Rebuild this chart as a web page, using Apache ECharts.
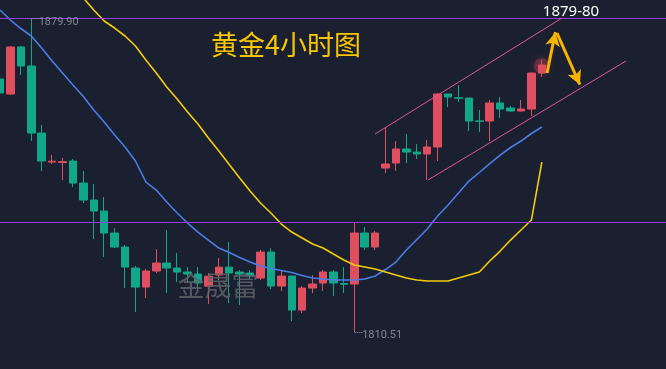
<!DOCTYPE html>
<html><head><meta charset="utf-8">
<script src="https://cdn.jsdelivr.net/npm/echarts@6/dist/echarts.min.js"></script>
<style>html,body{margin:0;padding:0;background:#1b2030;}#c{width:666px;height:369px;}</style>
</head><body><div id="c"></div>
<script>
// 4-hour gold candles (index 0 at left edge)
const opens  = [1866.55,1863.24,1873.62,1869.42,1854.62,1848.20,1848.10,1848.44,1843.57,1839.82,1837.39,1832.53,1829.44,1824.80,1820.60,1824.14,1825.90,1824.80,1823.92,1823.47,1820.80,1823.25,1825.00,1823.92,1823.70,1822.59,1828.33,1820.82,1823.03,1815.52,1820.38,1821.49,1823.92,1821.40,1821.26,1832.53,1829.44,1846.89,1848.00,1851.09,1850.42,1849.98,1851.53,1863.24,1862.40,1862.35,1857.30,1857.27,1861.25,1860.14,1859.48,1859.92,1867.87];
const closes = [1863.46,1873.62,1869.42,1854.62,1848.44,1848.40,1848.30,1843.57,1839.82,1837.39,1832.53,1829.44,1825.02,1820.60,1824.14,1825.90,1824.80,1823.92,1823.47,1821.49,1823.00,1825.00,1823.70,1823.47,1823.03,1828.33,1820.82,1823.03,1815.52,1820.38,1821.26,1823.92,1821.49,1821.20,1832.53,1829.44,1832.53,1847.77,1851.09,1850.42,1849.98,1851.53,1863.24,1862.57,1862.30,1857.27,1857.20,1861.25,1859.92,1859.48,1859.92,1867.87,1869.64];
const lows   = [1863.30,1863.00,1867.43,1852.85,1846.23,1847.80,1844.20,1842.69,1839.16,1831.20,1827.23,1829.20,1820.40,1815.08,1818.17,1823.70,1819.28,1821.70,1821.50,1819.94,1816.85,1822.15,1817.07,1816.60,1822.30,1822.15,1820.16,1819.72,1813.09,1814.86,1819.28,1819.72,1818.61,1819.28,1810.51,1828.78,1828.78,1845.78,1846.23,1848.00,1848.88,1844.24,1848.44,1860.36,1861.47,1855.06,1854.84,1852.85,1857.93,1859.26,1859.40,1858.38,1866.99];
const highs  = [1866.70,1873.84,1873.84,1879.90,1856.39,1849.80,1849.10,1848.88,1846.23,1843.35,1840.48,1833.60,1829.90,1825.24,1824.58,1829.00,1833.19,1828.10,1825.00,1825.00,1823.70,1827.00,1830.54,1824.36,1824.30,1828.80,1829.20,1824.14,1823.10,1820.80,1823.25,1824.36,1824.36,1825.00,1834.74,1833.86,1832.97,1855.73,1852.85,1854.40,1852.19,1853.07,1863.46,1863.30,1865.22,1862.40,1859.70,1861.91,1862.57,1860.60,1861.91,1867.90,1870.75];
// moving averages
const maBlue = [1881.79,1879.58,1877.70,1876.05,1873.40,1870.53,1867.87,1865.22,1862.68,1859.70,1857.05,1854.18,1851.53,1848.44,1843.80,1842.03,1839.38,1836.95,1834.74,1832.75,1830.98,1829.22,1828.22,1827.12,1826.12,1825.24,1824.69,1824.25,1823.80,1823.14,1822.59,1822.37,1822.15,1822.15,1822.15,1822.37,1823.03,1824.47,1826.12,1828.78,1831.09,1833.41,1836.29,1838.72,1841.37,1844.02,1845.90,1847.88,1849.76,1851.42,1852.85,1854.51,1855.95];
const maYellow = [null,null,null,null,null,null,null,null,1884.44,1881.79,1879.36,1877.81,1876.05,1873.84,1870.75,1867.87,1864.78,1862.13,1859.26,1856.61,1853.52,1850.64,1847.66,1844.68,1841.81,1839.16,1836.95,1834.52,1832.75,1831.43,1830.10,1829.22,1827.89,1826.57,1825.46,1825.02,1824.58,1823.92,1823.25,1822.59,1822.15,1821.93,1821.93,1821.93,1822.59,1823.25,1823.92,1826.35,1828.55,1830.98,1833.19,1835.40,1848.21];
// horizontal levels
const levels = [1880, 1835];
// annotation lines: [x index, price]
const channelUpper = [[35.99, 1854.40], [53.93, 1880.02]];
const channelLower = [[41.07, 1844.24], [60.08, 1870.53]];
const arrowUp   = [[52.5, 1867.87], [53.3, 1876.9]];
const arrowDown = [[53.45, 1876.71], [55.65, 1865.3]];
const highMark = [3, 1879.90, '1879.90'];
const lowMark  = [34, 1810.51, '1810.51'];

const N = 65;
const categories = Array.from({length: N}, (_, i) => 'K' + i);
const candles = opens.map((o, i) => [o, closes[i], lows[i], highs[i]]);
const RED = '#e04f5f', GREEN = '#11a88a';

const chart = echarts.init(document.getElementById('c'), null, {renderer: 'canvas'});
chart.setOption({
  backgroundColor: '#1b2030',
  animation: false,
  grid: {left: -5.21, right: -6.09, top: 0, bottom: 0, outerBoundsMode: 'none', containLabel: false},
  xAxis: [
    {type: 'category', data: categories, boundaryGap: true, show: false},
    {type: 'value', min: -0.5, max: N - 0.5, show: false}
  ],
  yAxis: {type: 'value', min: 1802.5, max: 1884, show: false, splitLine: {show: false}},
  series: [
    {
      type: 'scatter', xAxisIndex: 0, data: [[52, 1869.4]], symbolSize: 16, z: 1, silent: true,
      itemStyle: {color: 'rgba(230,80,95,0.35)', shadowBlur: 10, shadowColor: 'rgba(230,80,95,0.8)'}
    },
    {
      type: 'candlestick', xAxisIndex: 0, data: candles, barWidth: 8, z: 3,
      itemStyle: {color: RED, color0: GREEN, borderColor: RED, borderColor0: GREEN, borderWidth: 1},
      markLine: {
        silent: true, symbol: ['none', 'none'], label: {show: false},
        lineStyle: {color: '#8f3fe0', type: 'solid', width: 1},
        data: levels.map(v => ({yAxis: v}))
      }
    },
    {type: 'line', xAxisIndex: 0, data: maBlue, showSymbol: false, smooth: false, z: 4,
     lineStyle: {color: '#4a7de8', width: 1.6}},
    {type: 'line', xAxisIndex: 0, data: maYellow, showSymbol: false, smooth: false, z: 4,
     lineStyle: {color: '#f5cc0a', width: 1.6}},
    {
      type: 'line', xAxisIndex: 1, data: [], z: 5,
      markLine: {
        silent: true, label: {show: false}, animation: false,
        data: [
          [{coord: channelUpper[0], symbol: 'none', lineStyle: {color: '#e0559c', width: 1, type: 'solid'}}, {coord: channelUpper[1], symbol: 'none'}],
          [{coord: channelLower[0], symbol: 'none', lineStyle: {color: '#e0559c', width: 1, type: 'solid'}}, {coord: channelLower[1], symbol: 'none'}],
          [{coord: arrowUp[0], symbol: 'none', lineStyle: {color: '#f7b500', width: 3, type: 'solid'}}, {coord: arrowUp[1], symbol: 'arrow', symbolSize: [11, 14]}],
          [{coord: arrowDown[0], symbol: 'none', lineStyle: {color: '#f7b500', width: 3, type: 'solid'}}, {coord: arrowDown[1], symbol: 'arrow', symbolSize: [11, 14]}],
          [{coord: [highMark[0] + 0.02, highMark[1]], symbol: 'none', lineStyle: {color: '#9aa0a8', width: 1, type: 'dotted'}}, {coord: [highMark[0] + 0.75, highMark[1]], symbol: 'none'}],
          [{coord: [lowMark[0] + 0.1, lowMark[1]], symbol: 'none', lineStyle: {color: '#9aa0a8', width: 1, type: 'dotted'}}, {coord: [lowMark[0] + 0.8, lowMark[1]], symbol: 'none'}]
        ]
      }
    },
    {
      type: 'scatter', xAxisIndex: 1, symbolSize: 0, z: 6, silent: true,
      data: [
        {value: [highMark[0] + 0.9, highMark[1]], label: {show: true, position: 'right', distance: 0, offset: [-2, 4], formatter: highMark[2]}},
        {value: [lowMark[0] + 0.95, lowMark[1]], label: {show: true, position: 'right', distance: 0, offset: [-2, 3], formatter: lowMark[2]}}
      ],
      label: {color: '#9aa0a8', fontSize: 11, fontFamily: 'Roboto, sans-serif'}
    }
  ],
  graphic: [
    {type: 'text', left: 211, top: 31, z: 10,
     style: {text: '黄金4小时图', fill: '#f7c600', font: '27px "Noto Sans CJK SC", sans-serif'}},
    {type: 'text', x: 571, y: 12, z: 10,
     style: {text: '1879-80', fill: '#ffffff', font: '15px "Noto Sans", sans-serif', textAlign: 'center', textVerticalAlign: 'middle'}},
    {type: 'text', x: 218, y: 286, z: 10,
     style: {text: '金晟富', fill: 'rgba(95,98,104,0.85)', font: '27px "Noto Sans CJK SC", sans-serif', textAlign: 'center', textVerticalAlign: 'middle'}}
  ]
});
</script></body></html>
